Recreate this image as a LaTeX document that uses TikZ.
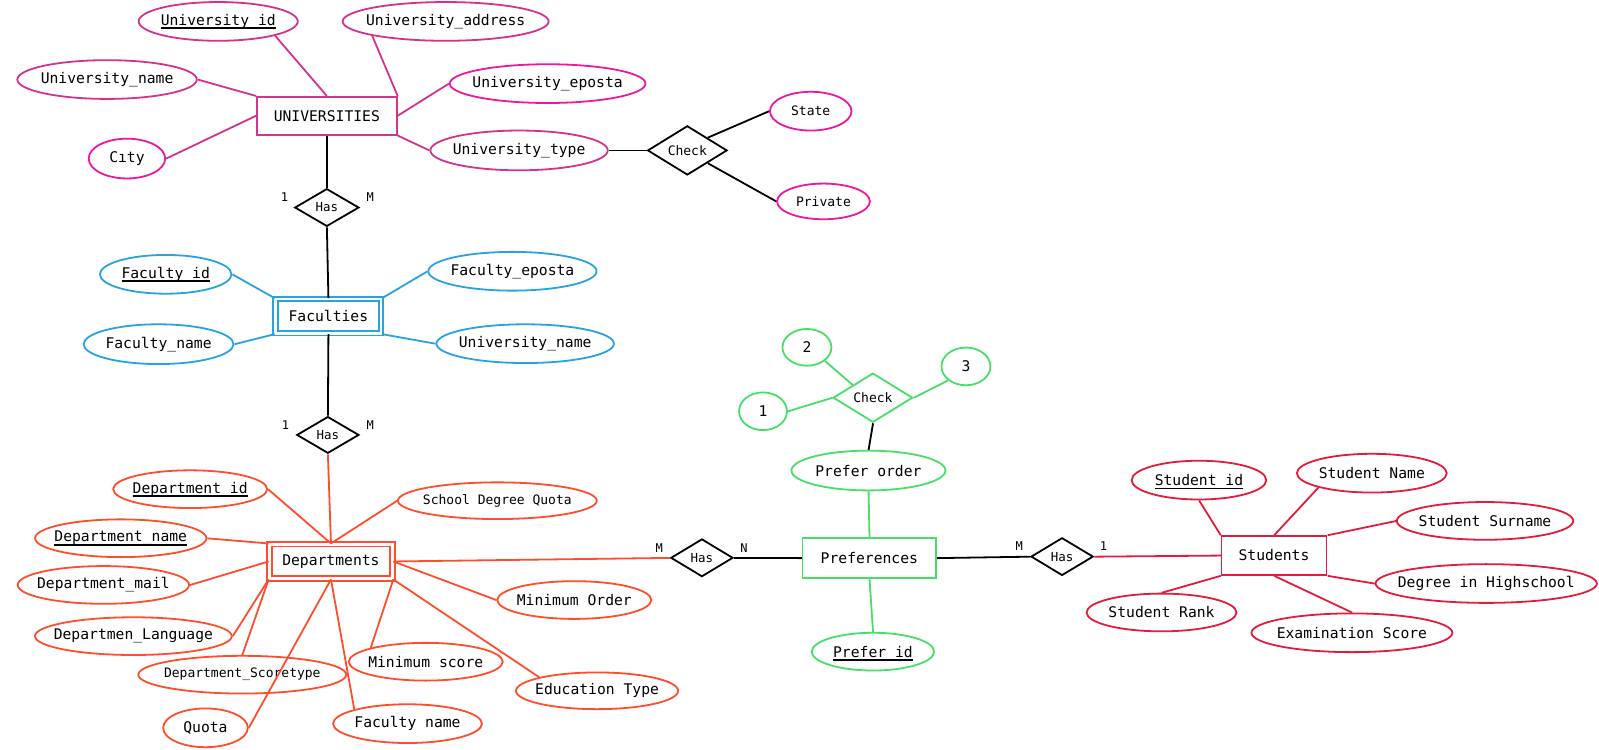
\documentclass[tikz,border=0pt]{standalone}
\usepackage{fontspec}
\setmainfont{DejaVu Sans Mono}
\usetikzlibrary{shapes.geometric}
\definecolor{unipink}{RGB}{213,50,142}
\definecolor{unibright}{RGB}{236,24,160}
\definecolor{facblue}{RGB}{41,162,224}
\definecolor{deporange}{RGB}{255,77,46}
\definecolor{prefgreen}{RGB}{72,222,104}
\definecolor{studred}{RGB}{226,28,60}
\newcommand{\keyattr}[1]{\setbox0=\hbox{#1}\rlap{\smash{\rule[-3.6pt]{\wd0}{1.6pt}}}\box0}
\begin{document}
\begin{tikzpicture}[x=1pt, y=-1pt, scale=1.0198, transform shape, line width=1.8pt,
		attr/.style={ellipse, draw, inner xsep=-20pt, inner ysep=0pt, font=\fontsize{14.4}{16}\selectfont},
		small/.style={font=\fontsize{12.75}{14}\selectfont},
		ent/.style={rectangle, draw, inner sep=0pt, font=\fontsize{14.4}{16}\selectfont},
		weak/.style={ent, double, double distance=2.7pt},
		rel/.style={diamond, draw=black, inner sep=0pt, font=\fontsize{12.2}{14}\selectfont},
		card/.style={inner sep=0pt, font=\fontsize{11.8}{13}\selectfont}]
		\useasboundingbox (0,0) rectangle (1568,734.5);
		
		%universities
		\node[ent, draw=unipink, minimum width=137pt, minimum height=37pt] (univ) at (320.5,113.5) {UNIVERSITIES};
		\node[attr, draw=unipink, minimum width=156pt, minimum height=38pt] (uid) at (214,21) {\keyattr{University\_id}};
		\node[attr, draw=unipink, minimum width=202pt, minimum height=38pt] (uaddr) at (437,21) {University\_address};
		\node[attr, draw=unipink, minimum width=176pt, minimum height=38pt] (uname) at (105,78) {University\_name};
		\node[attr, draw=unibright, minimum width=192pt, minimum height=38pt] (ueposta) at (537,82) {University\_eposta};
		\node[attr, draw=unipink, minimum width=174pt, minimum height=39pt] (utype) at (509,147.5) {University\_type};
		\node[attr, draw=unibright, minimum width=75pt, minimum height=39pt] (city) at (124.5,155.5) {Cıty};
		\node[rel, small, minimum width=78pt, minimum height=47pt] (ucheck) at (674,147.5) {Check};
		\node[attr, small, draw=unibright, minimum width=80pt, minimum height=38pt] (state) at (795,109) {State};
		\node[attr, small, draw=unibright, minimum width=91pt, minimum height=35pt] (private) at (807.5,197.5) {Private};
		\node[rel, minimum width=63pt, minimum height=37pt] (has1) at (320.5,203.5) {Has};
		\node[card] (has1a) at (279,193.5) {1};
		\node[card] (has1b) at (363,193.5) {M};
		
		\draw[unipink] (uid.south east) -- (univ.north);
		\draw[unipink] (uaddr.south west) -- (univ.north east);
		\draw[unipink] (uname.east) -- (univ.north west);
		\draw[unipink] (ueposta.west) -- (univ.east);
		\draw[unipink] (city.east) -- (univ.west);
		\draw[unipink] (utype.west) -- (univ.south east);
		\draw (utype.east) -- (ucheck.west);
		\draw (ucheck.north east) -- (state.west);
		\draw (ucheck.south east) -- (private.west);
		\draw (univ.south) -- (has1.north);
		
		%faculties
		\node[weak, draw=facblue, minimum width=103.5pt, minimum height=33.5pt] (fac) at (322,310) {Faculties};
		\node[attr, draw=facblue, minimum width=129pt, minimum height=38pt] (fid) at (162.5,269) {\keyattr{Faculty\_id}};
		\node[attr, draw=facblue, minimum width=147pt, minimum height=39pt] (fname) at (155.5,337.5) {Faculty\_name};
		\node[attr, draw=facblue, minimum width=165pt, minimum height=38pt] (feposta) at (502.5,266) {Faculty\_eposta};
		\node[attr, draw=facblue, minimum width=174pt, minimum height=38pt] (funame) at (515,337) {University\_name};
		\node[rel, minimum width=61pt, minimum height=36pt] (has2) at (321.5,426.5) {Has};
		\node[card] (has2a) at (280,416.5) {1};
		\node[card] (has2b) at (363,416.5) {M};
		
		\draw (has1.south) -- (fac.north);
		\draw[facblue] (fid.east) -- (fac.north west);
		\draw[facblue] (fname.east) -- (fac.south west);
		\draw[facblue] (feposta.west) -- (fac.north east);
		\draw[facblue] (funame.west) -- (fac.south east);
		\draw (fac.south) -- (has2.north);
		
		%departments
		\node[weak, draw=deporange, minimum width=120.5pt, minimum height=33.5pt] (dep) at (324.5,550.5) {Departments};
		\node[attr, draw=deporange, minimum width=151pt, minimum height=37pt] (did) at (186.5,479.7) {\keyattr{Department\_id}};
		\node[attr, small, draw=deporange, minimum width=195pt, minimum height=36pt] (dsdq) at (487.7,491) {School Degree Quota};
		\node[attr, draw=deporange, minimum width=168pt, minimum height=37pt] (dname) at (118.4,527.8) {\keyattr{Department\_name}};
		\node[attr, draw=deporange, minimum width=168pt, minimum height=37pt] (dmail) at (101.4,573.6) {Department\_mail};
		\node[attr, draw=deporange, minimum width=193pt, minimum height=37pt] (dlang) at (130.8,623.8) {Departmen\_Language};
		\node[attr, small, draw=deporange, minimum width=204pt, minimum height=37pt] (dscore) at (237.6,661.6) {Department\_Scoretype};
		\node[attr, draw=deporange, minimum width=83pt, minimum height=38pt] (quota) at (201.5,713.7) {Quota};
		\node[attr, draw=deporange, minimum width=146pt, minimum height=38pt] (dfname) at (399.6,709.6) {Faculty name};
		\node[attr, draw=deporange, minimum width=151pt, minimum height=37pt] (dminscore) at (417.5,648.9) {Minimum score};
		\node[attr, draw=deporange, minimum width=151pt, minimum height=37pt] (dminorder) at (563.2,588.4) {Minimum Order};
		\node[attr, draw=deporange, minimum width=159pt, minimum height=36pt] (dedu) at (585.5,677.4) {Education Type};
		
		\draw[deporange] (has2.south) -- (dep.north);
		\draw[deporange] (did.east) -- (dep.north);
		\draw[deporange] (dsdq.west) -- (dep.north);
		\draw[deporange] (dname.east) -- (dep.north west);
		\draw[deporange] (dmail.east) -- (dep.west);
		\draw[deporange] (dlang.east) -- (dep.south west);
		\draw[deporange] (dscore.north) -- (dep.south west);
		\draw[deporange] (quota.east) -- (dep.south);
		\draw[deporange] (dfname.north west) -- (dep.south);
		\draw[deporange] (dminscore.north west) -- (dep.south east);
		\draw[deporange] (dedu.north west) -- (dep.south east);
		\draw[deporange] (dminorder.west) -- (dep.east);
		
		%preferences
		\node[ent, draw=prefgreen, minimum width=131pt, minimum height=39pt] (pref) at (852.5,547.2) {Preferences};
		\node[attr, draw=prefgreen, minimum width=151pt, minimum height=39pt] (porder) at (851.6,461.4) {Prefer order};
		\node[attr, draw=prefgreen, minimum width=120pt, minimum height=37pt] (pid) at (856,639) {\keyattr{Prefer id}};
		\node[rel, small, draw=prefgreen, minimum width=78pt, minimum height=46pt] (pcheck) at (856,390) {Check};
		\node[attr, draw=prefgreen, minimum width=47pt, minimum height=37pt] (p1) at (748.2,403.3) {1};
		\node[attr, draw=prefgreen, minimum width=48pt, minimum height=36pt] (p2) at (791.3,340.6) {2};
		\node[attr, draw=prefgreen, minimum width=48pt, minimum height=37pt] (p3) at (947.2,359.3) {3};
		\node[rel, minimum width=61pt, minimum height=37pt] (hasd) at (688.3,547) {Has};
		\node[rel, minimum width=61pt, minimum height=37pt] (hass) at (1041.5,545.8) {Has};
		\node[card] (hasda) at (646.4,537) {M};
		\node[card] (hasdb) at (729.6,537) {N};
		\node[card] (hassa) at (999.5,536) {M};
		\node[card] (hassb) at (1082,536) {1};
		
		\draw[prefgreen] (p2.south east) -- (pcheck.north west);
		\draw[prefgreen] (p1.east) -- (pcheck.west);
		\draw[prefgreen] (p3.south west) -- (pcheck.east);
		\draw (pcheck.south) -- (porder.north);
		\draw[prefgreen] (porder.south) -- (pref.north);
		\draw[prefgreen] (pref.south) -- (pid.north);
		\draw[deporange] (dep.east) -- (hasd.west);
		\draw (hasd.east) -- (pref.west);
		\draw (pref.east) -- (hass.west);
		
		%students
		\node[ent, draw=studred, minimum width=103pt, minimum height=38pt] (stud) at (1249.3,544.7) {Students};
		\node[attr, draw=studred, minimum width=132pt, minimum height=38pt] (sid) at (1175.7,470.8) {\keyattr{Student id}};
		\node[attr, draw=studred, minimum width=147pt, minimum height=38pt] (sname) at (1345.2,464) {Student Name};
		\node[attr, draw=studred, minimum width=173pt, minimum height=37pt] (ssurname) at (1456.2,510.8) {Student Surname};
		\node[attr, draw=studred, minimum width=217pt, minimum height=38pt] (sdegree) at (1457.4,572.2) {Degree in Highschool};
		\node[attr, draw=studred, minimum width=197pt, minimum height=38pt] (sexam) at (1325.7,620.5) {Examination Score};
		\node[attr, draw=studred, minimum width=147pt, minimum height=37pt] (srank) at (1139,600.6) {Student Rank};
		
		\draw[studred] (hass.east) -- (stud.west);
		\draw[studred] (sid.south) -- (stud.north west);
		\draw[studred] (sname.south west) -- (stud.north);
		\draw[studred] (ssurname.west) -- (stud.north east);
		\draw[studred] (sdegree.west) -- (stud.south east);
		\draw[studred] (sexam.north) -- (stud.south);
		\draw[studred] (srank.north) -- (stud.south west);
\end{tikzpicture}
\end{document}
